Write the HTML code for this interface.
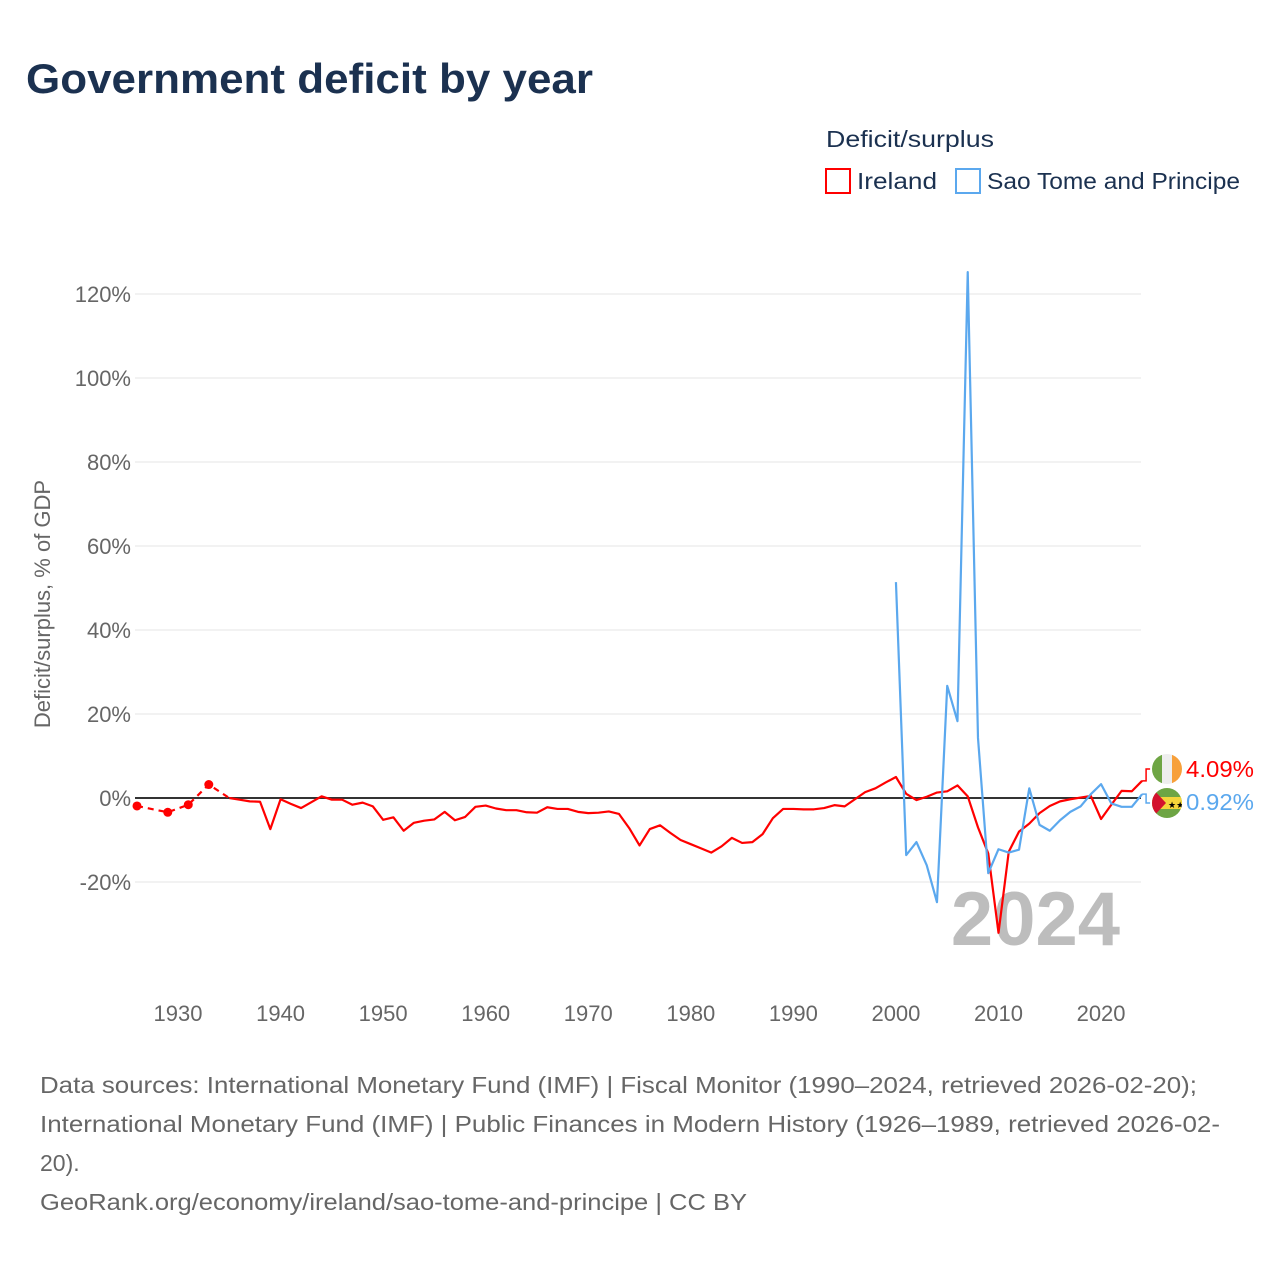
<!DOCTYPE html>
<html><head><meta charset="utf-8"><style>
body{margin:0;background:#fff;}
svg text{font-family:"Liberation Sans",sans-serif;}
</style></head><body>
<svg width="1280" height="1280" xmlns="http://www.w3.org/2000/svg">
<rect width="1280" height="1280" fill="#fff"/>
<text x="26" y="93" font-size="42" font-weight="bold" fill="#1b3150" textLength="567" lengthAdjust="spacingAndGlyphs">Government deficit by year</text>
<text x="826" y="147" font-size="23" fill="#1b3150" textLength="168" lengthAdjust="spacingAndGlyphs">Deficit/surplus</text>
<g><rect x="826" y="169" width="24" height="24" fill="none" stroke="#f00" stroke-width="2"/><text x="857" y="189" font-size="23" fill="#1b3150" textLength="80" lengthAdjust="spacingAndGlyphs">Ireland</text></g>
<g><rect x="956" y="169" width="24" height="24" fill="none" stroke="#5ba8ee" stroke-width="2"/><text x="987" y="189" font-size="23" fill="#1b3150" textLength="253" lengthAdjust="spacingAndGlyphs">Sao Tome and Principe</text></g>
<text transform="translate(50,604) rotate(-90)" text-anchor="middle" font-size="22" fill="#666">Deficit/surplus, % of GDP</text>
<g id="grid"></g><g id="xt"></g>
<text x="1120" y="945" text-anchor="end" font-size="76" font-weight="bold" fill="#bdbdbd">2024</text>
<g id="lines"></g>
<g><clipPath id="c1"><circle cx="1167" cy="769" r="15"/></clipPath><g clip-path="url(#c1)"><rect x="1152" y="754" width="10" height="30" fill="#6ea544"/><rect x="1162" y="754" width="10" height="30" fill="#eee"/><rect x="1172" y="754" width="10" height="30" fill="#f7a03a"/></g></g>
<g><clipPath id="c2"><circle cx="1167" cy="803" r="15"/></clipPath><g clip-path="url(#c2)"><rect x="1152" y="788" width="30" height="30" fill="#6ea544"/><rect x="1152" y="797" width="30" height="12" fill="#f5d53a"/><polygon points="1152,788 1166,803 1152,818" fill="#d3122e"/><text x="1168" y="808" font-size="9" fill="#000">★★</text></g></g>
<text x="1186" y="777" font-size="23" fill="#f00" textLength="68" lengthAdjust="spacingAndGlyphs">4.09%</text>
<text x="1186" y="810" font-size="23" fill="#5ba8ee" textLength="68" lengthAdjust="spacingAndGlyphs">0.92%</text>
<g font-size="23" fill="#666">
<text x="40" y="1093" textLength="1157" lengthAdjust="spacingAndGlyphs">Data sources: International Monetary Fund (IMF) | Fiscal Monitor (1990–2024, retrieved 2026-02-20);</text>
<text x="40" y="1132" textLength="1180" lengthAdjust="spacingAndGlyphs">International Monetary Fund (IMF) | Public Finances in Modern History (1926–1989, retrieved 2026-02-</text>
<text x="40" y="1171">20).</text>
<text x="40" y="1210" textLength="707" lengthAdjust="spacingAndGlyphs">GeoRank.org/economy/ireland/sao-tome-and-principe | CC BY</text>
</g>
</svg>
<script>
const yTicks=[-20,0,20,40,60,80,100,120];
const xTicks=[1930,1940,1950,1960,1970,1980,1990,2000,2010,2020];
const ieYears=[1926,1927,1928,1929,1930,1931,1932,1933,1934,1935,1936,1937,1938,1939,1940,1941,1942,1943,1944,1945,1946,1947,1948,1949,1950,1951,1952,1953,1954,1955,1956,1957,1958,1959,1960,1961,1962,1963,1964,1965,1966,1967,1968,1969,1970,1971,1972,1973,1974,1975,1976,1977,1978,1979,1980,1981,1982,1983,1984,1985,1986,1987,1988,1989,1990,1991,1992,1993,1994,1995,1996,1997,1998,1999,2000,2001,2002,2003,2004,2005,2006,2007,2008,2009,2010,2011,2012,2013,2014,2015,2016,2017,2018,2019,2020,2021,2022,2023,2024];
const ieValues=[-1.9,null,null,-3.4,null,-1.6,null,3.2,null,0,-0.4,-0.8,-0.9,-7.4,-0.3,-1.4,-2.4,-1.0,0.4,-0.4,-0.4,-1.6,-1.1,-2.0,-5.2,-4.6,-7.8,-5.9,-5.4,-5.1,-3.3,-5.3,-4.5,-2.1,-1.8,-2.5,-2.9,-2.9,-3.4,-3.5,-2.2,-2.6,-2.6,-3.3,-3.6,-3.5,-3.2,-3.8,-7.2,-11.3,-7.4,-6.5,-8.3,-10.0,-11.0,-12.0,-13.0,-11.5,-9.5,-10.7,-10.5,-8.6,-4.8,-2.6,-2.6,-2.7,-2.7,-2.4,-1.7,-2.0,-0.3,1.4,2.3,3.7,5.0,1.0,-0.5,0.3,1.3,1.6,3.0,0.4,-7.0,-13.2,-32.1,-12.8,-8.0,-6.1,-3.6,-1.9,-0.8,-0.3,0.1,0.5,-5.0,-1.6,1.7,1.6,4.09];
const stYears=[2000,2001,2002,2003,2004,2005,2006,2007,2008,2009,2010,2011,2012,2013,2014,2015,2016,2017,2018,2019,2020,2021,2022,2023,2024];
const stValues=[51.4,-13.6,-10.5,-16,-24.8,26.7,18.3,125.2,14.3,-17.9,-12.2,-13.0,-12.3,2.3,-6.4,-7.8,-5.3,-3.3,-2.0,0.9,3.3,-1.3,-2.1,-2.1,0.92];
const NS="http://www.w3.org/2000/svg";
const X=y=>137+(y-1926)*10.256;
const Y=v=>798-v*4.2;
function mk(t,a,p){const e=document.createElementNS(NS,t);for(const k in a)e.setAttribute(k,a[k]);p.appendChild(e);return e;}
const g=document.getElementById('grid');
yTicks.forEach(v=>{
 if(v!==0){const l=mk('line',{x1:135,x2:1141,y1:Y(v),y2:Y(v),stroke:'#e6e6e6','stroke-width':1},g);
 
 }
 const t=mk('text',{x:131,y:Y(v)+8,'text-anchor':'end','font-size':22,fill:'#666'},g);t.textContent=v+'%';
 
 
});
const xt=document.getElementById('xt');
xTicks.forEach(v=>{const t=mk('text',{x:X(v),y:1021,'text-anchor':'middle','font-size':22,fill:'#666'},xt);t.textContent=v;
 
 });
const L=document.getElementById('lines');
const z=mk('line',{x1:135,x2:1141,y1:Y(0),y2:Y(0),stroke:'#333','stroke-width':2},L);


const dashPts=[],solidPts=[];
ieYears.forEach((y,i)=>{const v=ieValues[i];if(v===null)return;if(y<=1935)dashPts.push([X(y),Y(v)]);if(y>=1935)solidPts.push([X(y),Y(v)]);});
const dp=mk('polyline',{points:dashPts.map(p=>p.join(',')).join(' '),fill:'none',stroke:'#f00','stroke-width':2.2,'stroke-dasharray':'6,5'},L);


ieYears.forEach((y,i)=>{if(y<1934&&ieValues[i]!==null){const c=mk('circle',{cx:X(y),cy:Y(ieValues[i]),r:4.5,fill:'#f00'},L);
 
 }});
const sp=mk('polyline',{points:solidPts.map(p=>p.join(',')).join(' '),fill:'none',stroke:'#f00','stroke-width':2.2,'stroke-linejoin':'round'},L);


const bp=mk('polyline',{points:stYears.map((y,i)=>X(y)+','+Y(stValues[i])).join(' '),fill:'none',stroke:'#5ba8ee','stroke-width':2.2,'stroke-linejoin':'round'},L);


const ie=ieValues[ieValues.length-1],st=stValues[stValues.length-1];
const c1=mk('polyline',{points:`${X(2024)},${Y(ie)} ${X(2024)+4},${Y(ie)} ${X(2024)+4},769 ${X(2024)+8},769`,fill:'none',stroke:'#f00','stroke-width':1.5},L);


const c2=mk('polyline',{points:`${X(2024)},${Y(st)} ${X(2024)+4},${Y(st)} ${X(2024)+4},803 ${X(2024)+8},803`,fill:'none',stroke:'#5ba8ee','stroke-width':1.5},L);


</script>
</body></html>
